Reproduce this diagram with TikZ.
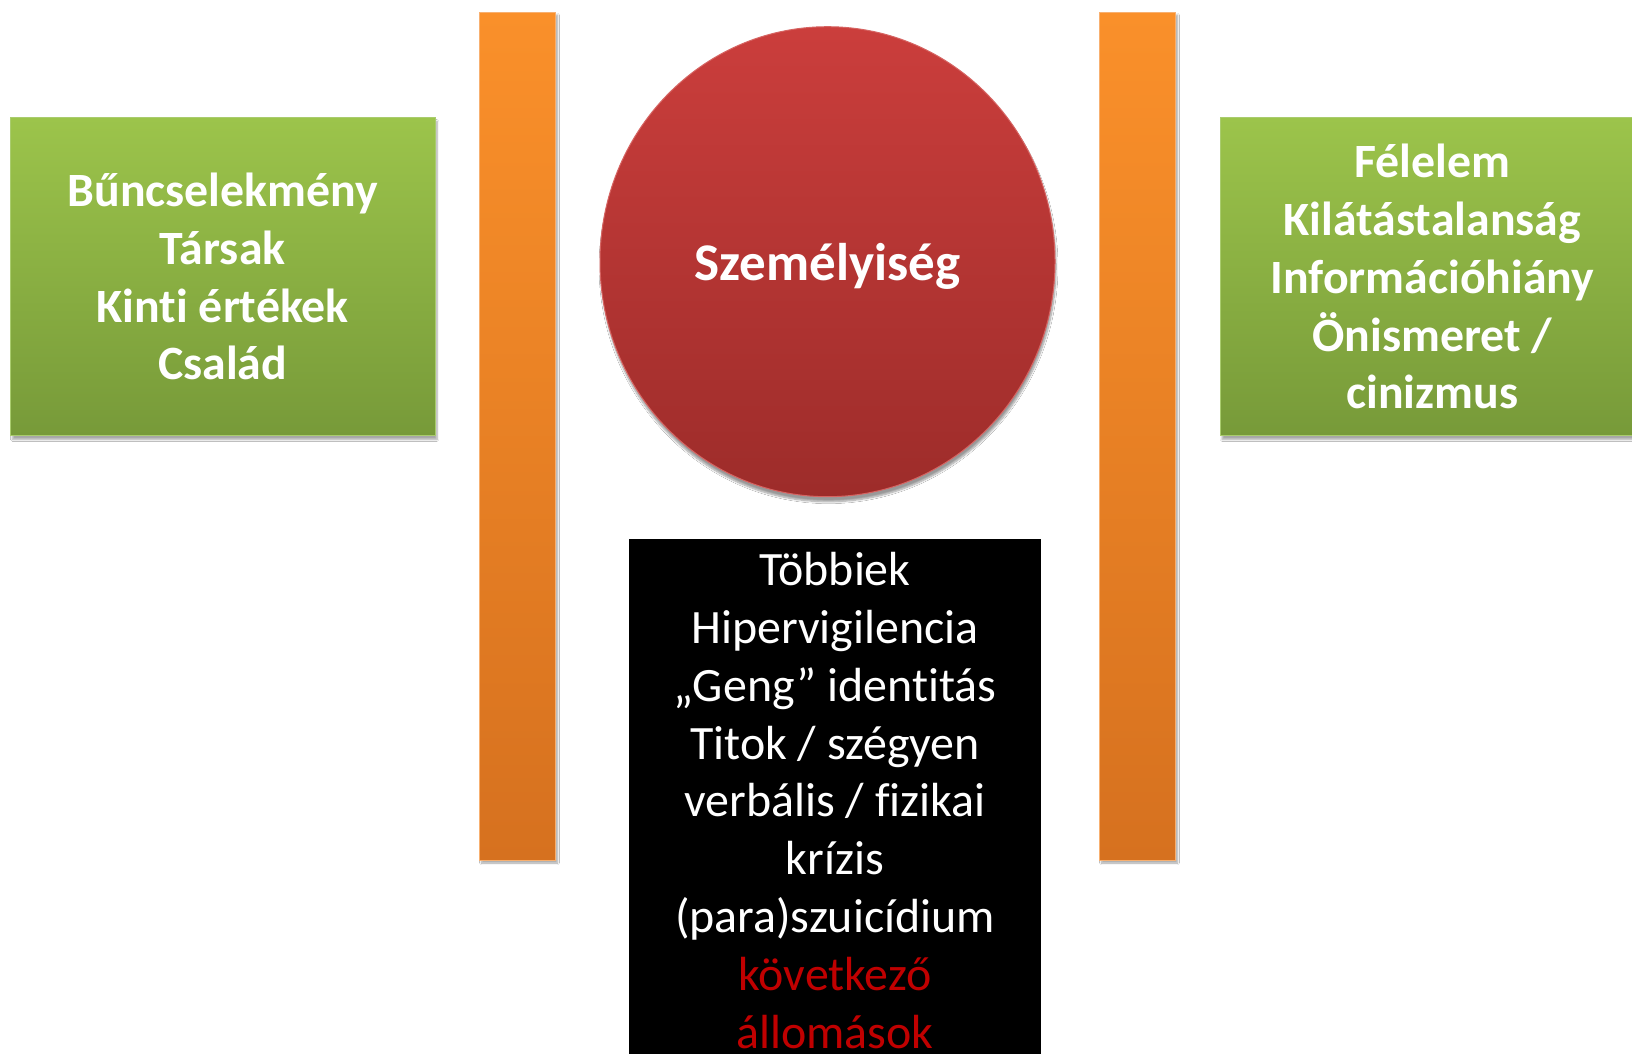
\documentclass[tikz,border=0pt]{standalone}
\usepackage{fontspec}
\setmainfont{Carlito}[RawFeature={-liga}]
\usetikzlibrary{shapes.geometric,shadows.blur}
\definecolor{gtop}{HTML}{9CC44B}
\definecolor{gbot}{HTML}{779A39}
\definecolor{gline}{HTML}{A9CC6E}
\definecolor{otop}{HTML}{FA902A}
\definecolor{obot}{HTML}{D6711F}
\definecolor{oline}{HTML}{F8B070}
\definecolor{rtop}{HTML}{CB3E3C}
\definecolor{rbot}{HTML}{9D2C2A}
\definecolor{rline}{HTML}{D66462}
\definecolor{txtred}{HTML}{C00000}
\tikzset{
  greenbox/.style={rectangle, minimum width=424.6pt, minimum height=318pt, inner sep=0pt,
    top color=gtop, bottom color=gbot, draw=gline, line width=1pt,
    text=white, align=center, font=\fontsize{47.8}{57.8}\selectfont\bfseries, text depth=0pt,
    blur shadow={shadow xshift=2pt, shadow yshift=-4pt, shadow blur steps=6, shadow opacity=35}},
  orangebar/.style={rectangle, minimum width=76pt, minimum height=848pt, inner sep=0pt,
    top color=otop, bottom color=obot, draw=oline, line width=1pt,
    blur shadow={shadow xshift=2pt, shadow yshift=-3pt, shadow blur steps=6, shadow opacity=35}},
  redball/.style={ellipse, minimum width=455pt, minimum height=470pt, inner sep=0pt,
    top color=rtop, bottom color=rbot, draw=rline, line width=1pt,
    text=white, font=\fontsize{53}{62}\selectfont\bfseries, text depth=0pt,
    blur shadow={shadow xshift=1pt, shadow yshift=-5pt, shadow blur steps=8, shadow opacity=40}},
  blackbox/.style={rectangle, minimum width=412pt, minimum height=600pt, inner sep=0pt,
    fill=black, anchor=north},
  blacktext/.style={text=white, align=center, inner sep=0pt, font=\fontsize{47.9}{57.8}\selectfont}
}
\begin{document}
\begin{tikzpicture}[x=1pt,y=-1pt]
\useasboundingbox (0,0) rectangle (1632,1053);
\fill[white] (0,0) rectangle (1632,1053);
\clip (0,0) rectangle (1632,1053);
\node[orangebar] (barL) at (517.5,436) {};
\node[orangebar] (barR) at (1137.5,436) {};
\node[greenbox] (left) at (222.7,276.5) {Bűncselekmény\\Társak\\Kinti értékek\\Család};
\node[greenbox] (right) at (1432.3,276.5) {Félelem\\Kilátástalanság\\Információhiány\\Önismeret /\\cinizmus};
\node[redball] (core) at (827.5,261.7) {Személyiség};
\node[blackbox] (bottom) at (835,538.5) {};
\node[blacktext] (list) at (835,800.5) {Többiek\\Hipervigilencia\\„Geng” identitás\\Titok / szégyen\\verbális / fizikai\\krízis\\(para)szuicídium\\\textcolor{txtred}{következő}\\\textcolor{txtred}{állomások}};
\end{tikzpicture}
\end{document}
